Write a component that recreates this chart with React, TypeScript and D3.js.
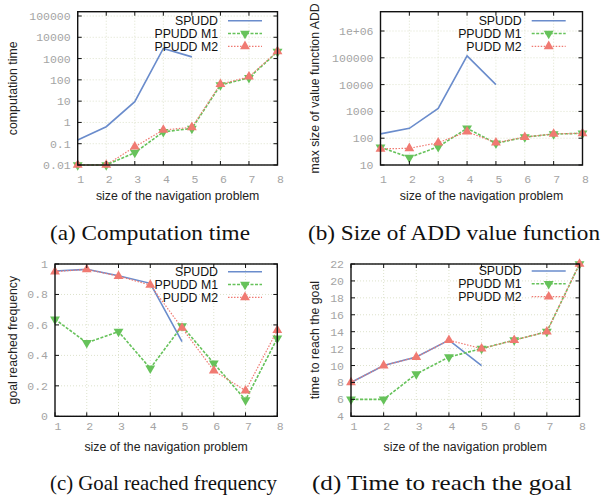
import React from "react";
import * as d3 from "d3";

const sizes = [1, 2, 3, 4, 5, 6, 7, 8];
const seriesNames = ["SPUDD", "PPUDD M1", "PPUDD M2"];

const timeSPUDD = [0.15, 0.63, 9.4, 3000, 1200];
const timeM1 = [0.01, 0.01, 0.038, 0.36, 0.52, 57, 125, 2100];
const timeM2 = [0.01, 0.01, 0.072, 0.44, 0.59, 62, 140, 2200];

const sizeSPUDD = [145, 233, 1300, 118000, 10000];
const sizeM1 = [46, 19, 48, 233, 64, 110, 143, 152];
const sizeM2 = [40, 42, 68, 174, 68, 110, 145, 152];

const goalSPUDD = [0.954, 0.965, 0.923, 0.873, 0.49];
const goalM1 = [0.637, 0.483, 0.556, 0.315, 0.593, 0.348, 0.107, 0.512];
const goalM2 = [0.95, 0.965, 0.92, 0.862, 0.58, 0.3, 0.168, 0.565];

const stepsSPUDD = [8, 10, 11, 13, 10];
const stepsM1 = [6, 6, 9, 11, 12, 13, 14, 22];
const stepsM2 = [8, 10, 11, 13, 12, 13, 14, 22];

const timeTicks = [0.01, 0.1, 1, 10, 100, 1000, 10000, 100000];
const timeTickLabels = ["0.01", "0.1", "1", "10", "100", "1000", "10000", "100000"];
const sizeTicks = [10, 100, 1000, 10000, 100000, 1000000];
const sizeTickLabels = ["10", "100", "1000", "10000", "100000", "1e+06"];
const goalTicks = [0, 0.2, 0.4, 0.6, 0.8, 1];
const goalTickLabels = ["0", "0.2", "0.4", "0.6", "0.8", "1"];
const stepsTicks = [4, 6, 8, 10, 12, 14, 16, 18, 20, 22];
const stepsTickLabels = ["4", "6", "8", "10", "12", "14", "16", "18", "20", "22"];

const COLORS = ["#6a8ccc", "#66c25a", "#f07a72"];
const MONO = "'Liberation Mono', 'DejaVu Sans Mono', monospace";
const SANS = "'Liberation Sans', Arial, sans-serif";
const SERIF = "'Liberation Serif', 'Times New Roman', serif";

type PanelProps = {
  x0: number; x1: number; yTop: number; yBottom: number;
  log: boolean; domain: [number, number]; range: [number, number];
  ticks: number[]; tickLabels: string[];
  data: number[][]; names: string[];
  yTitle: string; yTitleX: number;
  legendX: number; legendY: number;
  xTickY: number; xTitleY: number;
};

function Panel(p: PanelProps) {
  const xs = d3.scaleLinear().domain([1, 8]).range([p.x0, p.x1]);
  const ys = p.log
    ? d3.scaleLog().domain(p.domain).range(p.range)
    : d3.scaleLinear().domain(p.domain).range(p.range);
  const line = d3.line<number>().x((_, i) => xs(sizes[i])).y((v) => ys(v));
  const dashes = [undefined, "3,1.5", "1.5,1.5"];
  const widths = [1.6, 1.6, 1.2];
  const tri = d3.symbol().type(d3.symbolTriangle).size(42)();
  const marker = (k: number, cx: number, cy: number, key: string) =>
    k === 0 ? null : (
      <path key={key} d={tri || ""} fill={COLORS[k]}
        transform={`translate(${cx},${cy}) rotate(${k === 1 ? 180 : 0})`} />
    );
  const cy = (p.yTop + p.yBottom) / 2;
  const tl = 4;
  return (
    <g>
      {sizes.slice(1, -1).map((s) => (
        <line key={"gx" + s} x1={xs(s)} x2={xs(s)} y1={p.yTop} y2={p.yBottom}
          stroke="#dde2cc" strokeWidth={1} strokeDasharray="1,2" />
      ))}
      {p.ticks.map((t) => (
        <line key={"gy" + t} x1={p.x0} x2={p.x1} y1={ys(t)} y2={ys(t)}
          stroke="#dde2cc" strokeWidth={1} strokeDasharray="1,2" />
      ))}
      {p.data.map((arr, k) => (
        <path key={"l" + k} d={line(arr) || ""} fill="none" stroke={COLORS[k]}
          strokeWidth={widths[k]} strokeDasharray={dashes[k]} />
      ))}
      {p.data.map((arr, k) => arr.map((v, i) => marker(k, xs(sizes[i]), ys(v), `m${k}-${i}`)))}
      <rect x={p.x0} y={p.yTop} width={p.x1 - p.x0} height={p.yBottom - p.yTop}
        fill="none" stroke="#111" strokeWidth={1.4} />
      {p.ticks.map((t) => (
        <g key={"ty" + t}>
          <line x1={p.x0} x2={p.x0 + tl} y1={ys(t)} y2={ys(t)} stroke="#111" />
          <line x1={p.x1} x2={p.x1 - tl} y1={ys(t)} y2={ys(t)} stroke="#111" />
        </g>
      ))}
      {sizes.map((s) => (
        <g key={"tx" + s}>
          <line x1={xs(s)} x2={xs(s)} y1={p.yBottom} y2={p.yBottom - tl} stroke="#111" />
          <line x1={xs(s)} x2={xs(s)} y1={p.yTop} y2={p.yTop + tl} stroke="#111" />
        </g>
      ))}
      {p.ticks.map((t, i) => (
        <text key={"yl" + t} x={p.x0 - 7} y={ys(t)} dy="0.35em" textAnchor="end"
          fontFamily={MONO} fontSize={11.5} fill="#a4a4a4">{p.tickLabels[i]}</text>
      ))}
      {sizes.map((s) => (
        <text key={"xl" + s} x={xs(s) + 3} y={p.xTickY} textAnchor="middle"
          fontFamily={MONO} fontSize={11.5} fill="#a4a4a4">{String(s)}</text>
      ))}
      <text x={(p.x0 + p.x1) / 2} y={p.xTitleY} textAnchor="middle" fontFamily={SANS}
        fontSize={12.3} fill="#222">size of the navigation problem</text>
      <text transform={`translate(${p.yTitleX},${cy}) rotate(-90)`} textAnchor="middle"
        dy="0.35em" fontFamily={SANS} fontSize={12.3} fill="#222">{p.yTitle}</text>
      {p.names.map((n, k) => {
        const y = p.legendY + k * 12.8;
        const lx0 = p.legendX + 10;
        const lx1 = p.legendX + 44;
        return (
          <g key={"lg" + k}>
            <text x={p.legendX} y={y} dy="0.35em" textAnchor="end" fontFamily={SANS}
              fontSize={12.3} fill="#111">{n}</text>
            <line x1={lx0} x2={lx1} y1={y} y2={y} stroke={COLORS[k]}
              strokeWidth={widths[k]} strokeDasharray={dashes[k]} />
            {marker(k, (lx0 + lx1) / 2, y, "lm" + k)}
          </g>
        );
      })}
    </g>
  );
}

function Caption({ x, y, len, text }: { x: number; y: number; len: number; text: string }) {
  return (
    <text x={x} y={y} fontFamily={SERIF} fontSize={22} fill="#111"
      textLength={len} lengthAdjust="spacingAndGlyphs">{text}</text>
  );
}

export default function App() {
  return (
    <svg width={602} height={497} viewBox="0 0 602 497"
      style={{ position: "absolute", left: 0, top: 0, background: "#fff" }}>
      <rect width={602} height={497} fill="#fff" />
      <Panel x0={77.7} x1={277.5} yTop={11.7} yBottom={165} log domain={[0.01, 100000]}
        range={[165, 16]} ticks={timeTicks} tickLabels={timeTickLabels}
        data={[timeSPUDD, timeM1, timeM2]} names={seriesNames}
        yTitle="computation time" yTitleX={12.7} legendX={218} legendY={20.7}
        xTickY={183} xTitleY={200} />
      <Panel x0={380.5} x1={582.5} yTop={11.7} yBottom={165} log domain={[10, 1000000]}
        range={[165, 31]} ticks={sizeTicks} tickLabels={sizeTickLabels}
        data={[sizeSPUDD, sizeM1, sizeM2]} names={["SPUDD", "PPUDD M1", "PUDD M2"]}
        yTitle="max size of value function ADD" yTitleX={315} legendX={521.7} legendY={20.7}
        xTickY={183} xTitleY={200} />
      <Panel x0={55} x1={277.3} yTop={264} yBottom={416.3} log={false} domain={[0, 1]}
        range={[416.3, 264]} ticks={goalTicks} tickLabels={goalTickLabels}
        data={[goalSPUDD, goalM1, goalM2]} names={["SPUDD", "PPUDD M1", "PUDD M2"]}
        yTitle="goal reached frequency" yTitleX={12.7} legendX={218} legendY={271.7}
        xTickY={430} xTitleY={451} />
      <Panel x0={351} x1={579.5} yTop={264} yBottom={416.3} log={false} domain={[4, 22]}
        range={[416.3, 264]} ticks={stepsTicks} tickLabels={stepsTickLabels}
        data={[stepsSPUDD, stepsM1, stepsM2]} names={seriesNames}
        yTitle="time to reach the goal" yTitleX={315} legendX={521.7} legendY={271}
        xTickY={430} xTitleY={451} />
      <Caption x={50} y={240} len={200} text="(a) Computation time" />
      <Caption x={308} y={240} len={292} text="(b) Size of ADD value function" />
      <Caption x={50} y={490} len={227} text="(c) Goal reached frequency" />
      <Caption x={312} y={490} len={260} text="(d) Time to reach the goal" />
    </svg>
  );
}
